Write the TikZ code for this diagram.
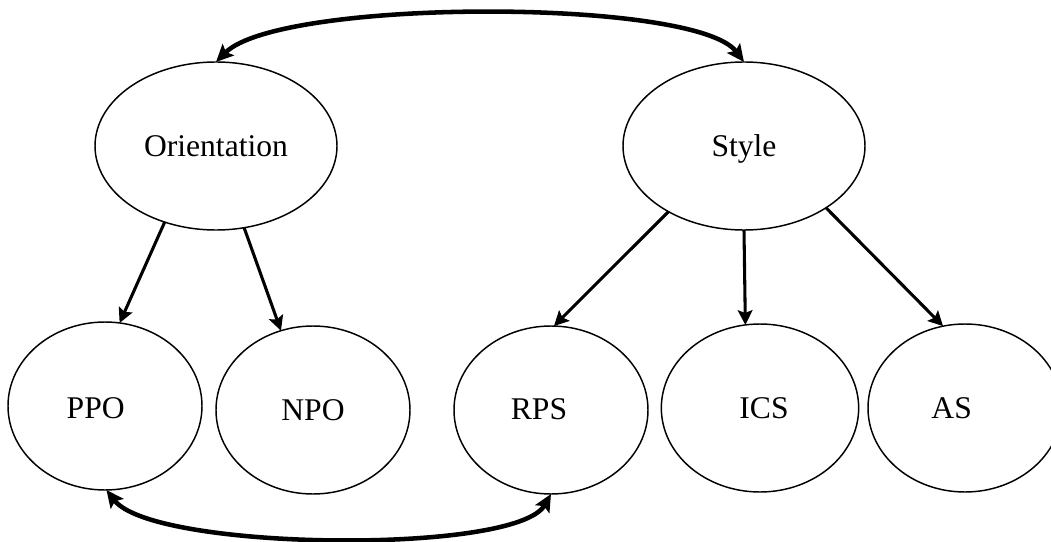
\documentclass[tikz,border=0pt]{standalone}
\usepackage{fontspec}
\setmainfont{Liberation Serif}
\usetikzlibrary{shapes.geometric,arrows.meta}
\begin{document}
\begin{tikzpicture}[x=0.75pt,y=-0.75pt,
  bub/.style={ellipse, draw, line width=1.1pt, inner sep=0pt, outer sep=0pt},
  topbub/.style={bub, minimum width=181.5pt, minimum height=126pt},
  lowbub/.style={bub, minimum width=145.5pt, minimum height=126pt},
  lbl/.style={font=\fontsize{23.7}{28}\selectfont, text height=15.6pt, text depth=0pt, inner sep=0pt},
  childarrow/.style={line width=2.3pt, -{Stealth[length=11pt,width=11pt,inset=2pt]}},
  linkarrow/.style={line width=3.4pt, {Stealth[length=13pt,width=12pt,inset=2.5pt]}-{Stealth[length=13pt,width=12pt,inset=2.5pt]}}
]
\useasboundingbox (0,0) rectangle (1051,542);

\node[topbub, label={[lbl]center:Orientation}] (ori) at (216,146) {};
\node[topbub, label={[lbl]center:Style}] (sty) at (744,146) {};

\node[lowbub, label={[lbl,xshift=-7pt,yshift=-1.5pt]center:PPO}] (ppo) at (105,406) {};
\node[lowbub, label={[lbl]center:NPO}] (npo) at (313,410) {};
\node[lowbub, label={[lbl,xshift=-9pt,yshift=1pt]center:RPS}] (rps) at (551,410) {};
\node[lowbub, minimum width=148pt, label={[lbl,xshift=3pt]center:ICS}] (ics) at (760,408) {};
\node[lowbub, label={[lbl,xshift=-10pt]center:AS}] (as) at (965,408) {};

\draw[childarrow] (ori.236.5) -- (ppo.80);
\draw[childarrow] (ori.289.5) -- (npo.112.4);
\draw[childarrow] (sty.221) -- (rps.88.7);
\draw[childarrow] (sty.270) -- (ics.100.7);
\draw[childarrow] (sty.323) -- (as.105.5);

\draw[linkarrow] (ori.90) .. controls +(64,-64) and +(-48,-64) .. (sty.90);
\draw[linkarrow] (ppo.271) .. controls +(47,61) and +(-35,61) .. (rps.270);
\end{tikzpicture}
\end{document}
